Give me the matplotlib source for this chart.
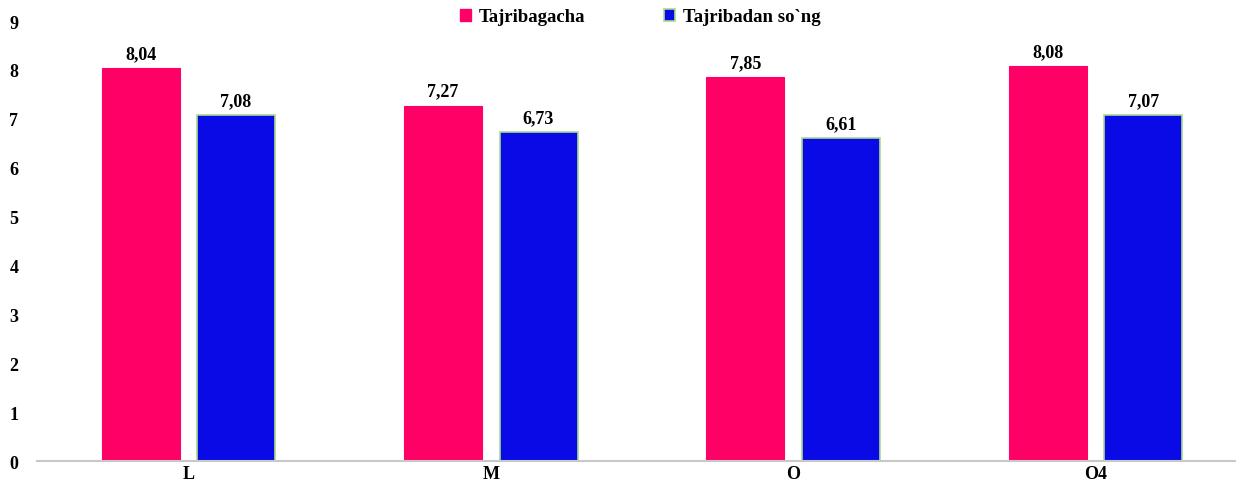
import numpy as np
import matplotlib.pyplot as plt
from matplotlib.patches import Patch

# Ma'lumotlar
kategoriyalar = ['L', 'M', 'O', 'O4']
tajribagacha = [8.04, 7.27, 7.85, 8.08]
tajribadan_song = [7.08, 6.73, 6.61, 7.07]

plt.rcParams['font.family'] = ['Liberation Serif', 'DejaVu Serif']
plt.rcParams['font.weight'] = 'bold'

fig = plt.figure(figsize=(12.36, 4.85), dpi=100)
ax = fig.add_axes([0.030, 0.0474, 0.970, 0.9072])

x = np.arange(len(kategoriyalar))
w = 0.258
b1 = ax.bar(x - 0.158, tajribagacha, w, color='#FF0066', edgecolor='#FF0066', linewidth=0.8)
b2 = ax.bar(x + 0.158, tajribadan_song, w, color='#0A0AE6', edgecolor='#A9D98E', linewidth=1.2)

for bars, vals in ((b1, tajribagacha), (b2, tajribadan_song)):
    for r, v in zip(bars, vals):
        ax.text(r.get_x() + r.get_width() / 2, v + 0.12, f'{v:.2f}'.replace('.', ','),
                ha='center', va='bottom', fontsize=13, fontweight='bold')

ax.set_xlim(-0.5, 3.464)
ax.set_ylim(0, 9)
ax.set_yticks(range(0, 10))
ax.set_xticks(x)
ax.set_xticklabels(kategoriyalar)
ax.tick_params(axis='x', length=0, pad=3, labelsize=13)
ax.tick_params(axis='y', length=0, pad=20, labelsize=13)
for s in ['top', 'right', 'left']:
    ax.spines[s].set_visible(False)
ax.spines['bottom'].set_color('#C8C8C8')
ax.spines['bottom'].set_linewidth(1.5)
for lab in ax.get_yticklabels():
    lab.set_horizontalalignment('left')

handles = [Patch(facecolor='#FF0066', edgecolor='#FF0066'),
           Patch(facecolor='#0A0AE6', edgecolor='#A9D98E', linewidth=1.2)]
fig.legend(handles, ['Tajribagacha', 'Tajribadan so`ng'], loc='center',
           bbox_to_anchor=(0.518, 0.963), ncol=2, frameon=False, fontsize=13.5,
           handlelength=0.6, handleheight=0.6, handletextpad=0.4, columnspacing=4.2)

fig.savefig('out.png', dpi=100)
